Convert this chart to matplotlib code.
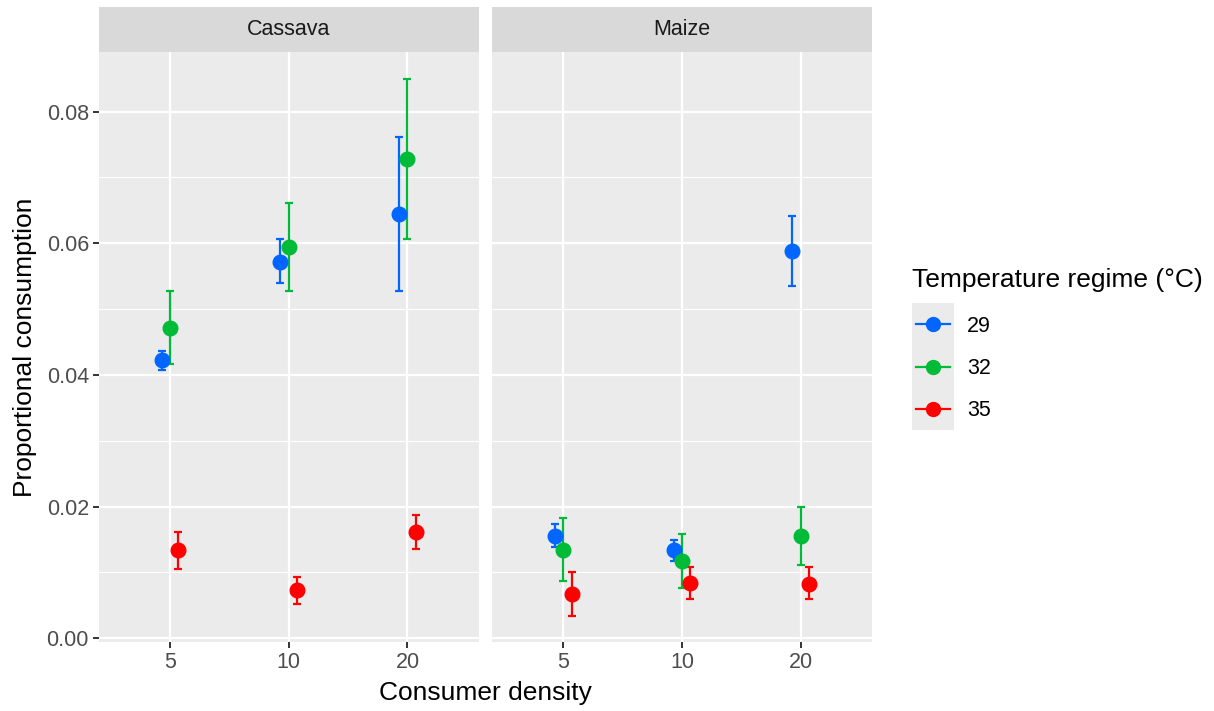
import numpy as np
import matplotlib
matplotlib.use("Agg")
import matplotlib.pyplot as plt

plt.rcParams['font.family'] = ['Liberation Sans', 'DejaVu Sans']

# data
densities = ['5', '10', '20']
temps = ['29', '32', '35']
colors = ['#0066ff', '#00bb38', '#ff0000']
crops = ['Cassava', 'Maize']

# mean, lower, upper per crop -> per temperature -> per density
cassava_mean = [[0.0423, 0.0572, 0.0645], [0.0472, 0.0594, 0.0728], [0.0134, 0.0073, 0.0161]]
cassava_low = [[0.0408, 0.0539, 0.0527], [0.0417, 0.0527, 0.0606], [0.0106, 0.0052, 0.0135]]
cassava_high = [[0.0437, 0.0606, 0.0762], [0.0527, 0.0661, 0.0850], [0.0161, 0.0093, 0.0188]]

maize_mean = [[0.0156, 0.0134, 0.0589], [0.0134, 0.0117, 0.0156], [0.0067, 0.0084, 0.0083]]
maize_low = [[0.0138, 0.0117, 0.0535], [0.0087, 0.0076, 0.0112], [0.0034, 0.0059, 0.0059]]
maize_high = [[0.0174, 0.0150, 0.0642], [0.0182, 0.0158, 0.0200], [0.0100, 0.0108, 0.0108]]

panels = {
    'Cassava': (cassava_mean, cassava_low, cassava_high),
    'Maize': (maize_mean, maize_low, maize_high),
}

W, H = 1214, 711
fig = plt.figure(figsize=(W / 100, H / 100), dpi=100)


def px_axes(x0, y0, x1, y1):
    return fig.add_axes([x0 / W, 1 - y1 / H, (x1 - x0) / W, (y1 - y0) / H])


panel_x = [(98.7, 478.7), (492.3, 871.7)]
dodge = [-0.07, 0.0, 0.07]
xpos = np.arange(1, len(densities) + 1)

for k, crop in enumerate(crops):
    x0, x1 = panel_x[k]
    ax = px_axes(x0, 52, x1, 642)
    ax.set_facecolor('#ebebeb')
    for s in ax.spines.values():
        s.set_visible(False)
    ax.set_xlim(0.4, 3.6)
    ax.set_ylim(-0.00056, 0.08906)
    ax.set_yticks(np.arange(0, 0.081, 0.02))
    ax.set_yticks(np.arange(0.01, 0.09, 0.02), minor=True)
    ax.set_xticks(xpos)
    ax.set_xticklabels(densities)
    ax.grid(True, which='major', color='white', lw=1.6)
    ax.grid(True, which='minor', axis='y', color='white', lw=0.8)
    ax.set_axisbelow(True)
    ax.tick_params(axis='both', which='major', length=4, width=1.4, color='#333333',
                   labelcolor='#4d4d4d', labelsize=15.5, pad=3)
    ax.tick_params(axis='both', which='minor', length=0)
    if k == 0:
        ax.set_yticklabels(['%.2f' % v for v in np.arange(0, 0.081, 0.02)])
    else:
        ax.tick_params(axis='y', which='major', left=False, labelleft=False)

    mean, low, high = panels[crop]
    for t in range(len(temps)):
        m = np.array(mean[t])
        lo = np.array(low[t])
        hi = np.array(high[t])
        ax.errorbar(xpos + dodge[t], m, yerr=[m - lo, hi - m], fmt='o', color=colors[t],
                    ms=10.5, elinewidth=1.6, capsize=2.6, capthick=1.6, zorder=3)

    # facet strip
    sax = px_axes(x0, 7, x1, 52)
    sax.set_facecolor('#d9d9d9')
    sax.set_xticks([])
    sax.set_yticks([])
    for s in sax.spines.values():
        s.set_visible(False)
    sax.text(0.5, 0.5, crop, ha='center', va='center', fontsize=15.5, color='#1a1a1a',
             transform=sax.transAxes)

fig.text(485 / W, 1 - 693 / H, 'Consumer density', ha='center', va='center', fontsize=19)
fig.text(25 / W, 1 - 347 / H, 'Proportional consumption', ha='center', va='center',
         rotation=90, fontsize=19)

# legend
fig.text(912 / W, 1 - 280 / H, 'Temperature regime (°C)', ha='left', va='center', fontsize=19)
lax = px_axes(912, 303, 954, 430)
lax.set_facecolor('#ebebeb')
lax.set_xlim(0, 1)
lax.set_ylim(0, 3)
lax.set_xticks([])
lax.set_yticks([])
for s in lax.spines.values():
    s.set_visible(False)
for t in range(len(temps)):
    yy = 2.5 - t
    lax.plot([0.1, 0.9], [yy, yy], color=colors[t], lw=1.6)
    lax.plot([0.5], [yy], 'o', color=colors[t], ms=10)
    fig.text(967 / W, 1 - (326 + t * 42) / H, temps[t], ha='left', va='center', fontsize=15.5)

fig.savefig('out.png', dpi=100)
